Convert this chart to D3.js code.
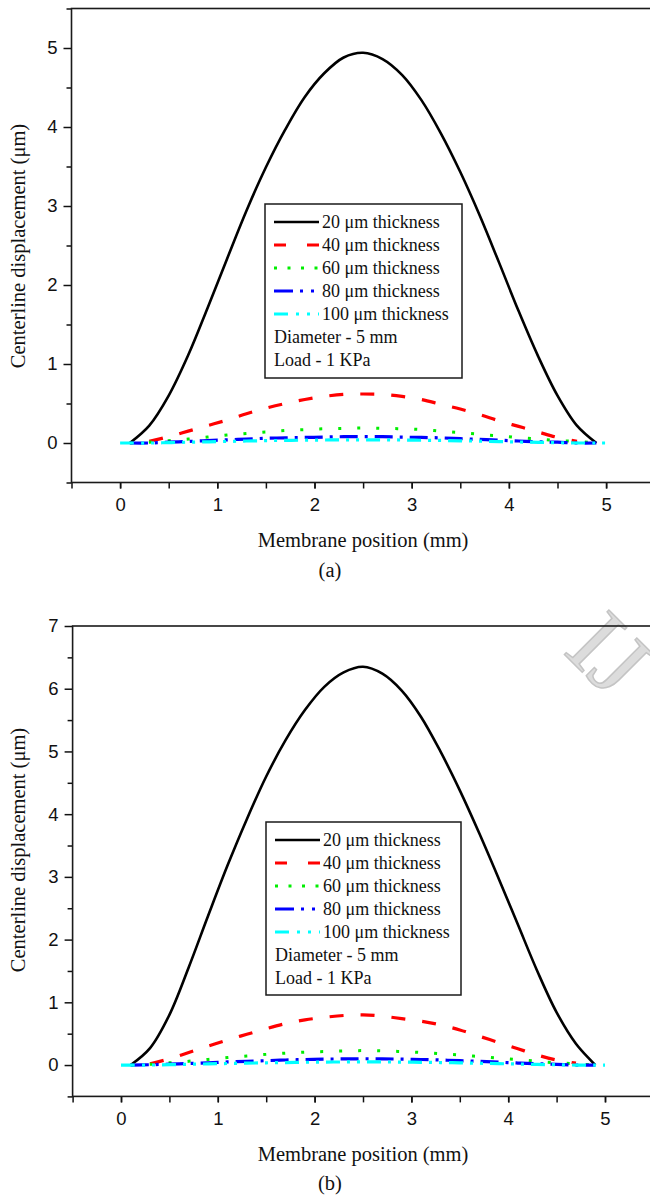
<!DOCTYPE html>
<html>
<head>
<meta charset="utf-8">
<script src="https://cdn.jsdelivr.net/npm/d3@7"></script>
<style>
  body { margin: 0; background: #fff; }
  .tick text { font-family: "Liberation Sans", Arial, sans-serif; font-size: 18.5px; fill: #111; }
  .serif { font-family: "Liberation Serif", "Times New Roman", serif; fill: #111; }
</style>
</head>
<body>
<svg id="chart" width="650" height="1195"></svg>
<script>
// membrane positions (mm) shared by all curves
const positions = [0, 0.1, 0.3, 0.5, 0.7, 0.9, 1.1, 1.3, 1.5, 1.7, 1.9, 2.1, 2.3, 2.5,
  2.7, 2.9, 3.1, 3.3, 3.5, 3.7, 3.9, 4.1, 4.3, 4.5, 4.7, 4.9, 5.0];

const seriesNames = ['20 μm thickness', '40 μm thickness', '60 μm thickness',
  '80 μm thickness', '100 μm thickness'];
const notes = ['Diameter - 5 mm', 'Load - 1 KPa'];

// panel (a) displacement (μm)
const a20 = [null, 0, 0.22, 0.60, 1.11, 1.71, 2.33, 2.94, 3.49, 3.97, 4.38, 4.68, 4.88, 4.94,
  4.86, 4.66, 4.34, 3.92, 3.43, 2.88, 2.28, 1.67, 1.10, 0.60, 0.22, 0, null];
const a40 = [null, null, 0.02, 0.08, 0.15, 0.22, 0.29, 0.37, 0.44, 0.50, 0.55, 0.59, 0.615, 0.62,
  0.615, 0.59, 0.55, 0.49, 0.43, 0.36, 0.28, 0.21, 0.14, 0.07, 0.02, null, null];
const a60 = [null, 0, 0.01, 0.03, 0.05, 0.075, 0.10, 0.12, 0.14, 0.16, 0.17, 0.18, 0.185, 0.19,
  0.185, 0.18, 0.17, 0.15, 0.13, 0.11, 0.09, 0.07, 0.05, 0.03, 0.02, 0, null];
const a80 = [null, 0, 0, 0.01, 0.02, 0.03, 0.04, 0.05, 0.06, 0.065, 0.07, 0.075, 0.08, 0.08,
  0.08, 0.075, 0.07, 0.065, 0.055, 0.045, 0.035, 0.025, 0.015, 0.01, 0, 0, null];
const a100 = [0, 0, 0, 0.005, 0.01, 0.015, 0.02, 0.025, 0.03, 0.033, 0.036, 0.038, 0.04, 0.04,
  0.04, 0.038, 0.035, 0.032, 0.028, 0.023, 0.018, 0.013, 0.008, 0.004, 0, 0, 0];

// panel (b) displacement (μm)
const b20 = [null, 0, 0.27, 0.80, 1.56, 2.38, 3.18, 3.92, 4.60, 5.18, 5.66, 6.03, 6.26, 6.35,
  6.24, 5.97, 5.55, 5.00, 4.38, 3.70, 2.98, 2.24, 1.50, 0.84, 0.34, 0, null];
const b40 = [null, null, 0.02, 0.10, 0.20, 0.30, 0.40, 0.49, 0.58, 0.66, 0.72, 0.76, 0.79, 0.80,
  0.78, 0.74, 0.70, 0.64, 0.56, 0.46, 0.36, 0.26, 0.16, 0.08, 0.03, null, null];
const b60 = [null, 0, 0.012, 0.035, 0.06, 0.09, 0.12, 0.145, 0.17, 0.19, 0.205, 0.215, 0.225, 0.23,
  0.225, 0.215, 0.20, 0.18, 0.16, 0.135, 0.11, 0.085, 0.06, 0.035, 0.02, 0, null];
const b80 = [null, 0, 0.005, 0.015, 0.025, 0.035, 0.05, 0.06, 0.07, 0.08, 0.088, 0.094, 0.098, 0.10,
  0.098, 0.094, 0.088, 0.08, 0.07, 0.058, 0.045, 0.032, 0.02, 0.01, 0, 0, null];
const b100 = [0, 0, 0, 0.006, 0.012, 0.018, 0.025, 0.03, 0.036, 0.04, 0.044, 0.047, 0.049, 0.05,
  0.049, 0.047, 0.044, 0.04, 0.035, 0.029, 0.022, 0.016, 0.01, 0.005, 0, 0, 0];

const xTicks = [0, 1, 2, 3, 4, 5];
const yTicksA = [0, 1, 2, 3, 4, 5];
const yTicksB = [0, 1, 2, 3, 4, 5, 6, 7];

const styles = [
  { color: '#000000', dash: null, legendDash: null, width: 2.6 },
  { color: '#ff0000', dash: '14,17', legendDash: '12,21', width: 3.2 },
  { color: '#00ee00', dash: '3,16', legendDash: '3,10.5', width: 3 },
  { color: '#0000ff', dash: '18,7,3,7', legendDash: '19,7,3,8,3,8', width: 3.2 },
  { color: '#00ffff', dash: '14,7,3,7,3,7', legendDash: '14,8,3,8,3,8', width: 3.2 },
];

const svg = d3.select('#chart');

const panels = [
  { series: [a20, a40, a60, a80, a100], yMax: 5.5, yTicks: yTicksA,
    xRange: [71.5, 654.7], yRange: [482.5, 8.5],
    legend: { x: 265, y: 204, w: 197, h: 174 },
    yTitleY: 246, xTitleY: 547, tag: '(a)', tagY: 577 },
  { series: [b20, b40, b60, b80, b100], yMax: 7, yTicks: yTicksB,
    xRange: [72.6, 653.4], yRange: [1096.4, 626],
    legend: { x: 266, y: 822, w: 195, h: 173 },
    yTitleY: 850, xTitleY: 1161, tag: '(b)', tagY: 1190 },
];

function drawPanel(p) {
  const x = d3.scaleLinear().domain([-0.5, 5.5]).range(p.xRange);
  const y = d3.scaleLinear().domain([-0.5, p.yMax]).range(p.yRange);
  const g = svg.append('g');
  const bottom = p.yRange[0], top = p.yRange[1];

  // minor ticks on x
  g.append('g')
    .attr('transform', `translate(0,${bottom})`)
    .call(d3.axisBottom(x).tickValues(d3.range(-0.5, 5.51, 0.5)).tickSize(6).tickFormat(''))
    .call(s => s.select('.domain').remove());
  // labelled x ticks
  g.append('g')
    .attr('transform', `translate(0,${bottom})`)
    .call(d3.axisBottom(x).tickValues(xTicks).tickSize(6).tickPadding(9).tickFormat(d3.format('d')))
    .call(s => s.select('.domain').remove());

  // y ticks
  const yMinor = d3.range(-0.5, p.yMax + 0.01, 0.5).filter(v => !Number.isInteger(v));
  g.append('g')
    .attr('transform', `translate(${p.xRange[0]},0)`)
    .call(d3.axisLeft(y).tickValues(yMinor).tickSize(5).tickFormat(''))
    .call(s => s.select('.domain').remove());
  g.append('g')
    .attr('transform', `translate(${p.xRange[0]},0)`)
    .call(d3.axisLeft(y).tickValues(p.yTicks).tickSize(8).tickPadding(6).tickFormat(d3.format('d')))
    .call(s => s.select('.domain').remove());

  g.selectAll('.tick line').attr('stroke', '#111').attr('stroke-width', 1.5);

  // frame
  g.append('rect')
    .attr('x', p.xRange[0]).attr('y', top)
    .attr('width', p.xRange[1] - p.xRange[0]).attr('height', bottom - top)
    .attr('fill', 'none').attr('stroke', '#1a1a1a').attr('stroke-width', 1.6);

  // curves
  const line = d3.line()
    .x(d => x(d[0]))
    .y(d => y(d[1]))
    .curve(d3.curveCatmullRom.alpha(0.5));

  p.series.forEach((vals, i) => {
    const st = styles[i];
    g.append('path')
      .datum(positions.map((px, j) => [px, vals[j]]).filter(d => d[1] !== null))
      .attr('d', line)
      .attr('fill', 'none')
      .attr('stroke', st.color)
      .attr('stroke-width', st.width)
      .attr('stroke-dasharray', st.dash);
  });

  // legend
  const L = p.legend;
  const lg = g.append('g');
  lg.append('rect')
    .attr('x', L.x).attr('y', L.y).attr('width', L.w).attr('height', L.h)
    .attr('fill', '#fff').attr('stroke', '#1a1a1a').attr('stroke-width', 1.5);
  const rowY = i => L.y + 18 + i * 23;
  seriesNames.forEach((name, i) => {
    const st = styles[i];
    lg.append('line')
      .attr('x1', L.x + 9).attr('x2', L.x + 54)
      .attr('y1', rowY(i)).attr('y2', rowY(i))
      .attr('stroke', st.color).attr('stroke-width', st.width)
      .attr('stroke-dasharray', st.legendDash);
    lg.append('text').attr('class', 'serif')
      .attr('x', L.x + 57).attr('y', rowY(i)).attr('dy', '0.35em')
      .attr('font-size', 18).text(name);
  });
  notes.forEach((t, k) => {
    lg.append('text').attr('class', 'serif')
      .attr('x', L.x + 9).attr('y', rowY(5 + k)).attr('dy', '0.35em')
      .attr('font-size', 18).text(t);
  });

  // titles
  g.append('text').attr('class', 'serif')
    .attr('transform', `translate(18,${p.yTitleY}) rotate(-90)`)
    .attr('text-anchor', 'middle').attr('dy', '0.35em')
    .attr('font-size', 20.5).text('Centerline displacement (μm)');
  g.append('text').attr('class', 'serif')
    .attr('x', (p.xRange[0] + p.xRange[1]) / 2).attr('y', p.xTitleY)
    .attr('text-anchor', 'middle').attr('font-size', 20.5)
    .text('Membrane position (mm)');
  g.append('text').attr('class', 'serif')
    .attr('x', 330).attr('y', p.tagY)
    .attr('text-anchor', 'middle').attr('font-size', 20.5)
    .text(p.tag);
}

panels.forEach(drawPanel);

// faint watermark at the top right of panel (b)
svg.insert('text', ':first-child')
  .attr('transform', 'translate(562,652) rotate(45)')
  .attr('font-family', '"Liberation Serif", serif')
  .attr('font-size', 96)
  .attr('fill', '#dcdcdc')
  .attr('stroke', '#c4c4c4')
  .attr('stroke-width', 1.5)
  .text('IJ');
</script>
</body>
</html>
